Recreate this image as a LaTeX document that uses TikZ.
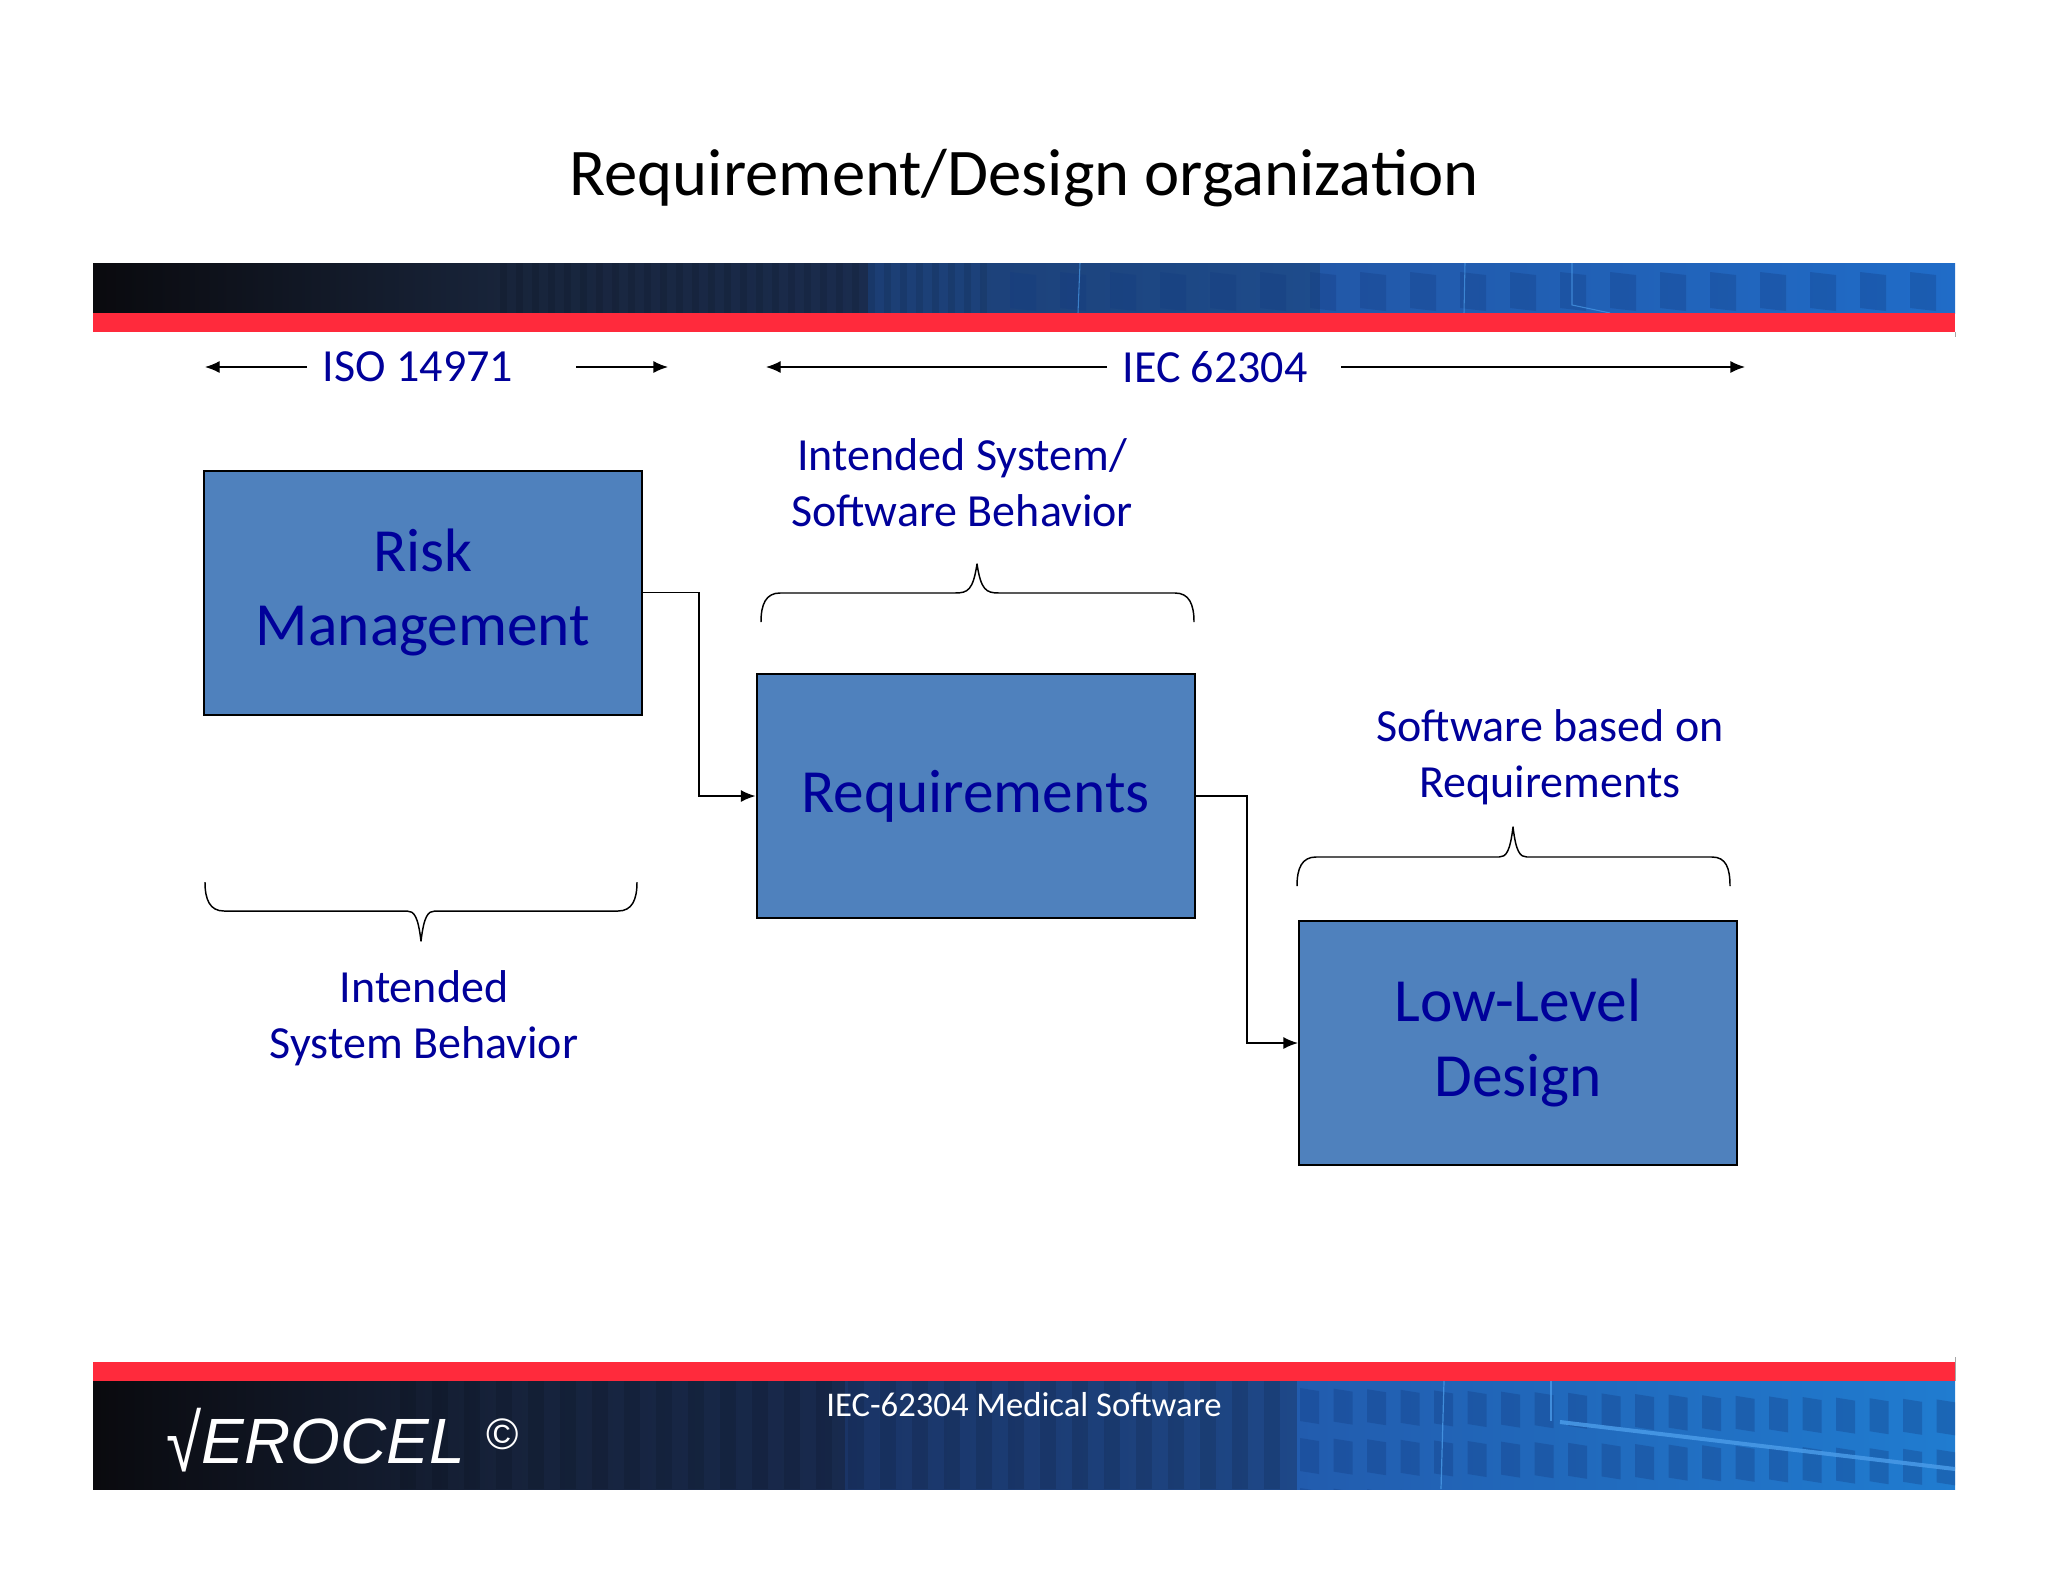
\documentclass[tikz,border=0pt]{standalone}
\usepackage{fontspec}
\setmainfont{Carlito}
\newfontfamily\logofont{Liberation Sans}
\definecolor{boxblue}{HTML}{4F81BD}
\definecolor{inkblue}{HTML}{00009A}
\definecolor{barred}{HTML}{FF2A3C}
\definecolor{winblue}{HTML}{123A80}
\definecolor{glowblue}{HTML}{4A9BE8}
\tikzset{
  box/.style={draw=black,line width=1.5pt,fill=boxblue,minimum width=328.5pt,minimum height=183pt,inner sep=0pt,align=center,text=inkblue,font=\fontsize{46}{56}\selectfont},
  note/.style={inner sep=0pt,align=center,text=inkblue,font=\fontsize{34.5}{42}\selectfont},
  conn/.style={draw=black,line width=1.1pt,-{Latex[length=11pt,width=9pt]}},
  span/.style={draw=black,line width=1pt,-{Latex[length=11pt,width=9pt]}},
  curly/.style={draw=black,line width=1.1pt,line join=round},
}
\usetikzlibrary{arrows.meta}
\newcommand{\bandfill}[2]{%
  \fill[black!95!blue] (93,#1) rectangle (1955,#2);
  \shade[left color=black!95!blue,right color=black!75!blue!45!cyan!30!black] (93,#1) rectangle (500,#2);
  \shade[left color=black!75!blue!45!cyan!30!black,right color=black!75!blue!45!cyan!30!black] (500,#1) rectangle (855,#2);
}
\begin{document}
\begin{tikzpicture}[x=0.75pt,y=-0.75pt]
\useasboundingbox (0,0) rectangle (2048,1582);
\fill[white] (0,0) rectangle (2048,1582);

% top band
\begin{scope}
  \clip (93,263) rectangle (1955,313);
  \shade[left color={rgb,255:red,10;green,10;blue,14},right color={rgb,255:red,24;green,36;blue,58}] (92,263) rectangle (501,313);
  \shade[left color={rgb,255:red,24;green,36;blue,58},right color={rgb,255:red,26;green,44;blue,78}] (500,263) rectangle (869,313);
  \shade[left color={rgb,255:red,28;green,62;blue,116},right color={rgb,255:red,30;green,76;blue,140}] (868,263) rectangle (1321,313);
  \shade[left color={rgb,255:red,34;green,88;blue,168},right color={rgb,255:red,32;green,108;blue,200}] (1320,263) rectangle (1956,313);
  \foreach \i in {0,...,18}{
    \pgfmathsetmacro{\xa}{1010+\i*50}
    \fill[winblue,opacity=.3] (\xa,272) -- ++(26,3) -- ++(0,36) -- ++(-26,-3) -- cycle;
  }
  \foreach \i in {0,...,30}{
    \pgfmathsetmacro{\xa}{500+\i*16}
    \fill[black,opacity=.09] (\xa,263) rectangle ++(7,50);
  }
  \draw[glowblue,line width=.8pt,opacity=.7] (1080,263) -- (1078,313);
  \draw[glowblue,line width=.8pt,opacity=.7] (1465,263) -- (1464,313);
  \draw[glowblue,line width=.8pt,opacity=.7] (1572,263) -- (1572,305) -- (1610,313);
\end{scope}
\fill[barred] (93,313) rectangle (1955,332);
\draw[gray!70,line width=.6pt] (1955,332) -- (1955,337);

% footer band
\fill[barred] (93,1362) rectangle (1955,1381);
\draw[gray!70,line width=.6pt] (1955,1357) -- (1955,1381);
\begin{scope}
  \clip (93,1381) rectangle (1955,1489);
  \shade[left color={rgb,255:red,10;green,10;blue,14},right color={rgb,255:red,22;green,34;blue,58}] (92,1381) rectangle (501,1489);
  \shade[left color={rgb,255:red,22;green,34;blue,58},right color={rgb,255:red,24;green,42;blue,78}] (500,1381) rectangle (846,1489);
  \shade[left color={rgb,255:red,26;green,52;blue,102},right color={rgb,255:red,30;green,72;blue,136}] (845,1381) rectangle (1298,1489);
  \shade[left color={rgb,255:red,34;green,92;blue,174},right color={rgb,255:red,32;green,124;blue,208}] (1297,1381) rectangle (1956,1489);
  \foreach \i in {0,...,27}{
    \pgfmathsetmacro{\xa}{400+\i*32}
    \fill[black,opacity=.10] (\xa,1381) rectangle ++(16,108);
  }
  \foreach \i in {0,...,19}{
    \pgfmathsetmacro{\xa}{1300+\i*33.5}
    \foreach \r in {0,1,2}{
      \pgfmathsetmacro{\ya}{1388+\r*50+\i*.6}
      \fill[winblue,opacity=.32] (\xa,\ya) -- ++(19,3) -- ++(0,33) -- ++(-19,-3) -- cycle;
    }
  }
  \draw[glowblue,line width=.9pt,opacity=.8] (1444,1381) -- (1441,1489);
  \draw[glowblue,line width=.9pt,opacity=.8] (1551,1381) -- (1551,1421);
  \draw[glowblue,line width=3pt,opacity=.85] (1560,1422) -- (1955,1469);
\end{scope}

% title and footer text
\node (title) at (1024,178) [inner sep=0pt,font=\fontsize{50}{60}\selectfont] {Requirement/Design organization};
\node (foot) at (1024,1405) [inner sep=0pt,text=white,font=\fontsize{26}{32}\selectfont] {IEC-62304 Medical Software};
\node (logo) at (316,1440) [anchor=center,inner sep=0pt,text=white,font=\logofont\itshape\fontsize{48}{48}\selectfont] {\raisebox{-6pt}{\scalebox{1}[1.25]{√}}EROCEL};
\node (copy) at (503,1434) [inner sep=0pt,text=white,font=\logofont\fontsize{33}{33}\selectfont] {©};

% span labels and arrows
\node[note] (iso) at (418,367) {ISO 14971};
\node[note] (iec) at (1215,367) {IEC 62304};
\coordinate (isoLa) at (307,367);
\coordinate (isoLb) at (205,367);
\coordinate (isoRa) at (576,367);
\coordinate (isoRb) at (668,367);
\coordinate (iecLa) at (1107,367);
\coordinate (iecLb) at (766,367);
\coordinate (iecRa) at (1341,367);
\coordinate (iecRb) at (1745,367);
\draw[span] (isoLa) -- (isoLb);
\draw[span] (isoRa) -- (isoRb);
\draw[span] (iecLa) -- (iecLb);
\draw[span] (iecRa) -- (iecRb);

% boxes
\node[box] (risk) at (423,592.5) {Risk\\Management};
\node[box] (req) at (975.5,796) {Requirements};
\node[box] (low) at (1518,1043) {Low-Level\\Design};

% connectors
\coordinate (turnA) at (699,600);
\coordinate (turnB) at (1247,900);
\draw[conn] (risk.east) -| (turnA) |- (req.west);
\draw[conn] (req.east) -| (turnB) |- (low.west);

% braces
\draw[curly] (761,622) .. controls (761,604) and (766,593) .. (780,593) -- (955,593)
  .. controls (968,593) and (973,590) .. (977,564)
  .. controls (981,590) and (986,593) .. (999,593) -- (1175,593)
  .. controls (1189,593) and (1194,604) .. (1194,622);
\draw[curly] (205,882) .. controls (205,900) and (210,911) .. (224,911) -- (407,911)
  .. controls (414,911) and (418,916) .. (421,941)
  .. controls (424,916) and (428,911) .. (435,911) -- (618,911)
  .. controls (632,911) and (637,900) .. (637,882);
\draw[curly] (1297,886) .. controls (1297,868) and (1302,857) .. (1316,857) -- (1499,857)
  .. controls (1506,857) and (1510,852) .. (1513,827)
  .. controls (1516,852) and (1520,857) .. (1527,857) -- (1712,857)
  .. controls (1726,857) and (1730,868) .. (1730,886);

% notes
\node[note] (n1) at (962,483) {Intended System/\hspace{6pt}\\Software Behavior};
\node[note] (n2) at (424,1018) {Intended\hspace{6pt}\\System Behavior};
\node[note] (n3) at (1550,757) {Software based on\\Requirements};
\end{tikzpicture}
\end{document}
